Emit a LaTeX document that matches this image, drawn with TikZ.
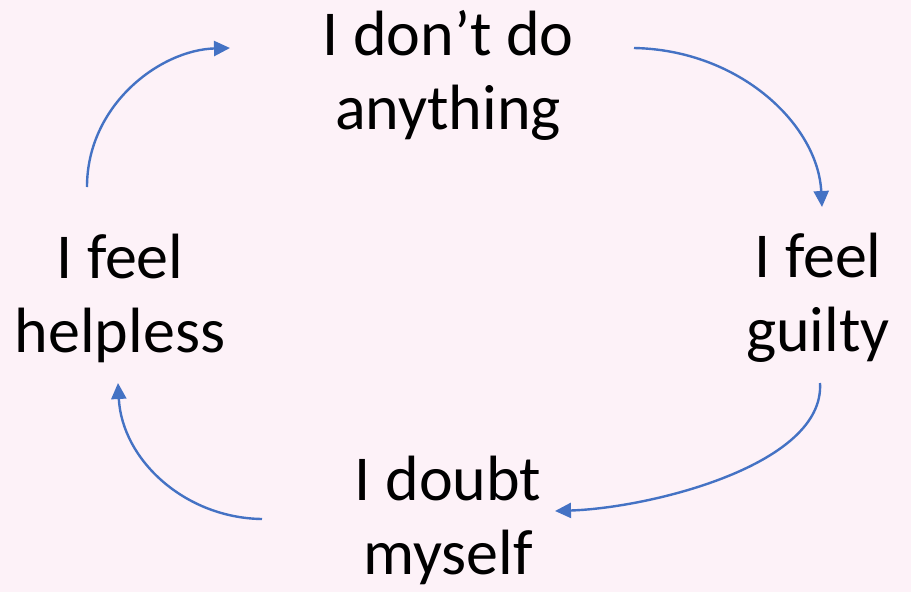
\documentclass[tikz,border=0pt]{standalone}
\usepackage{fontspec}
\setmainfont{Carlito}
\usetikzlibrary{arrows.meta}
\definecolor{bgpink}{HTML}{FDF2F8}
\definecolor{arrblue}{HTML}{4472C4}
\begin{document}
\begin{tikzpicture}[x=1pt,y=-1pt,
  lbl/.style={align=center,font=\fontsize{64}{74}\selectfont,inner sep=0pt},
  cyc/.style={draw=arrblue,line width=2.4pt,-{Triangle[length=16pt,width=15pt]}}]
\fill[bgpink] (0,0) rectangle (911,592);
\useasboundingbox (0,0) rectangle (911,592);
\node[lbl] (top) at (448,75) {I don’t do\\anything};
\node[lbl] (left) at (120,298) {I feel\\helpless};
\node[lbl] (right) at (818,298) {I feel\\guilty};
\node[lbl] (bot) at (448,520) {I doubt\\myself};
\coordinate (a1) at (87,187);
\coordinate (a2) at (230,48);
\coordinate (b1) at (634,48);
\coordinate (b2) at (822,207);
\coordinate (c1) at (820,383);
\coordinate (c2) at (555,511);
\coordinate (d1) at (262,519);
\coordinate (d2) at (118,383);
\draw[cyc] (a1) .. controls (87,105) and (160,50) .. (a2);
\draw[cyc] (b1) .. controls (740,50) and (818,125) .. (b2);
\draw[cyc] (c1) .. controls (825,465) and (650,508) .. (c2);
\draw[cyc] (d1) .. controls (185,518) and (122,460) .. (d2);
\end{tikzpicture}
\end{document}
